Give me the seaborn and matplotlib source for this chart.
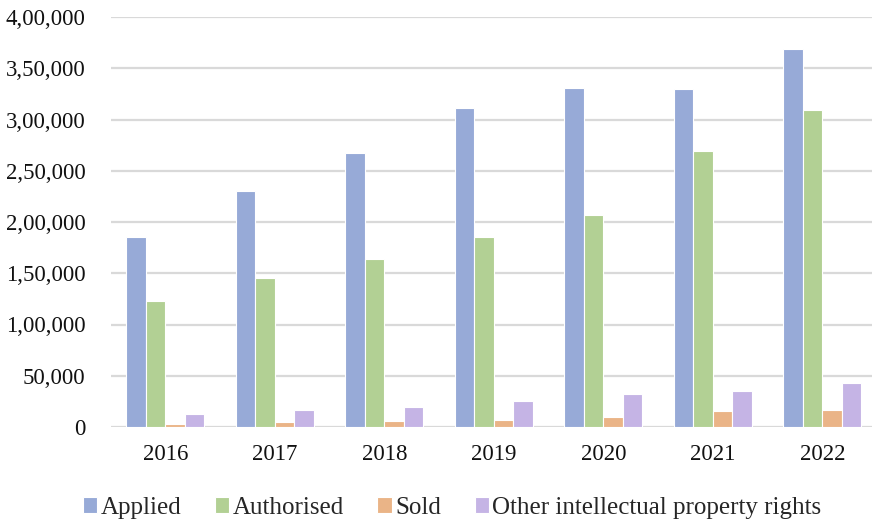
import matplotlib
matplotlib.use("Agg")
import matplotlib.pyplot as plt
import matplotlib.ticker as mticker
import seaborn as sns
import pandas as pd

years = ["2016", "2017", "2018", "2019", "2020", "2021", "2022"]
applied = [185000, 230000, 267000, 311000, 331000, 329500, 369000]
authorised = [122500, 145000, 164000, 185500, 206500, 269000, 309000]
sold = [3200, 5200, 6200, 6500, 9700, 15600, 16600]
other_ipr = [12400, 16600, 19500, 25300, 32500, 35400, 42900]
series_names = ["Applied", "Authorised", "Sold", "Other intellectual property rights"]
palette = ["#97AAD7", "#B2D094", "#EAB487", "#C5B4E5"]

df = pd.DataFrame({"Year": years, "Applied": applied, "Authorised": authorised,
                   "Sold": sold, "Other intellectual property rights": other_ipr})
long_df = df.melt(id_vars="Year", var_name="Series", value_name="Count")

sns.set_theme(style="white")
plt.rcParams["font.family"] = ["Liberation Serif", "DejaVu Serif"]

fig = plt.figure(figsize=(8.72, 5.21), dpi=100)
ax = fig.add_axes([110.5 / 872, 1 - 427 / 521, 766.5 / 872, 410 / 521])

sns.barplot(data=long_df, x="Year", y="Count", hue="Series", hue_order=series_names,
            palette=palette, width=0.71, edgecolor="white", linewidth=0.8,
            saturation=1, ax=ax, legend=True)

ax.set_ylim(0, 400000)
ax.set_xlim(-0.5, 6.5)
ax.yaxis.set_major_locator(mticker.MultipleLocator(50000))


def indian_format(v, pos):
    v = int(round(v))
    s = str(v)
    if len(s) <= 3:
        return s
    head, tail = s[:-3], s[-3:]
    parts = []
    while len(head) > 2:
        parts.insert(0, head[-2:])
        head = head[:-2]
    if head:
        parts.insert(0, head)
    return ",".join(parts + [tail])


ax.yaxis.set_major_formatter(mticker.FuncFormatter(indian_format))
ax.grid(axis="y", color="#D9D9D9", linewidth=1.6)
ax.set_axisbelow(True)
for side in ["left", "right", "top", "bottom"]:
    ax.spines[side].set_visible(False)
ax.set_xlabel("")
ax.set_ylabel("")
ax.tick_params(axis="both", length=0, labelsize=16.5, colors="#111111")
ax.tick_params(axis="y", pad=18)
ax.tick_params(axis="x", pad=12)

handles, labels = ax.get_legend_handles_labels()
ax.get_legend().remove()
fig.legend(handles, labels, loc="center", bbox_to_anchor=(452 / 872, 1 - 508 / 521),
           ncol=4, frameon=False, fontsize=18, handlelength=0.58, handleheight=0.58,
           handletextpad=0.12, columnspacing=1.35, borderaxespad=0)

fig.savefig("out.png", dpi=100)
